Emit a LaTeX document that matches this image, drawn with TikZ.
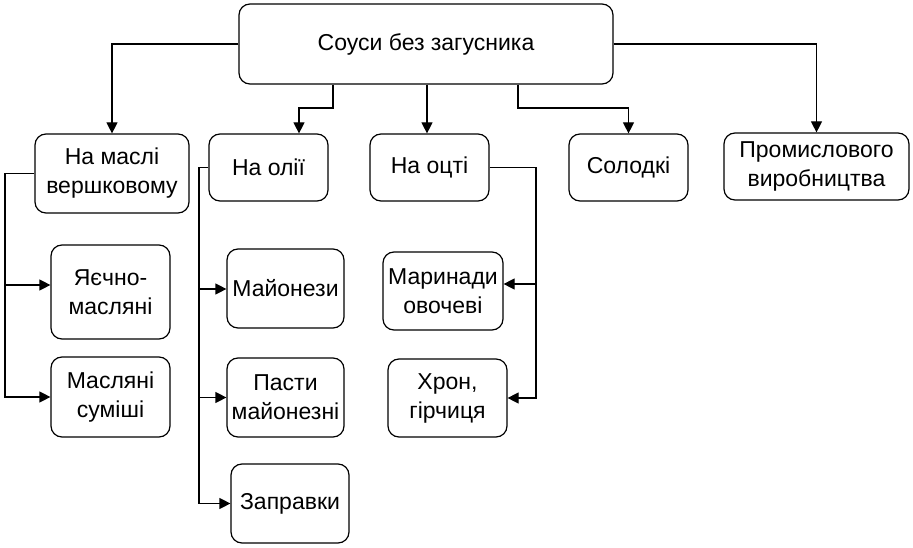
\documentclass[tikz,border=0pt]{standalone}
\usepackage{fontspec}
\setmainfont{Liberation Sans}
\usetikzlibrary{arrows.meta}
\begin{document}
\begin{tikzpicture}[x=1pt,y=-1pt,
  box/.style={draw, line width=1.2pt, rounded corners=11pt, align=center, inner sep=0pt,
    font=\fontsize{23}{29}\selectfont},
  conn/.style={line width=1.2pt},
  arr/.style={conn, -{Triangle[length=11pt,width=11pt]}}]
\useasboundingbox (0,0) rectangle (913,548);
\node[box, minimum width=374pt, minimum height=80pt] (top) at (426,44) {Соуси без загусника};
\node[box, minimum width=154pt, minimum height=79pt] (maslo) at (112,173.5) {На маслі\\вершковому};
\node[box, minimum width=119pt, minimum height=67pt] (olii) at (268.5,167.5) {На олії};
\node[box, minimum width=119pt, minimum height=67pt] (otsti) at (429.5,167.5) {На оцті};
\node[box, minimum width=119pt, minimum height=67pt] (solod) at (628.5,167.5) {Солодкі};
\node[box, minimum width=185pt, minimum height=67pt] (prom) at (816.5,166.5) {Промислового\\виробництва};
\node[box, minimum width=119pt, minimum height=94pt] (yaech) at (110.5,292) {Яєчно-\\масляні};
\node[box, minimum width=119pt, minimum height=80pt] (masl) at (110.5,397) {Масляні\\суміші};
\node[box, minimum width=117pt, minimum height=79pt] (mayon) at (285.5,288.5) {Майонези};
\node[box, minimum width=117pt, minimum height=79pt] (pasty) at (285.5,397.5) {Пасти\\майонезні};
\node[box, minimum width=118pt, minimum height=79pt] (zapr) at (290,503.5) {Заправки};
\node[box, minimum width=120pt, minimum height=78pt] (marin) at (443,291) {Маринади\\овочеві};
\node[box, minimum width=119pt, minimum height=78pt] (khron) at (447.5,398) {Хрон,\\гірчиця};
\coordinate (l1) at (5,285);
\coordinate (o1) at (199,289);
\coordinate (v1) at (536,284);
% top connectors
\draw[arr] (top.west) -| (maslo.north);
\draw[arr] (333,0 |- top.south) |- (316,108) -| (olii.north -| 299,0);
\draw[arr] (427,0 |- top.south) -- (427,0 |- otsti.north);
\draw[arr] (518,0 |- top.south) |- (560,108) -| (solod.north);
\draw[arr] (top.east) -| (prom.north);
% maslo branch
\draw[arr] (maslo.west) -| (l1) |- (masl.west);
\draw[arr] (l1) -- (yaech.west |- l1);
% olii branch
\draw[arr] (olii.west) -| (o1) |- (zapr.west);
\draw[arr] (o1) -- (mayon.west |- o1);
\draw[arr] (o1 |- pasty.west) -- (pasty.west);
% otsti branch
\draw[arr] (otsti.east) -| (v1) |- (khron.east);
\draw[arr] (v1) -- (marin.east |- v1);
\end{tikzpicture}
\end{document}
